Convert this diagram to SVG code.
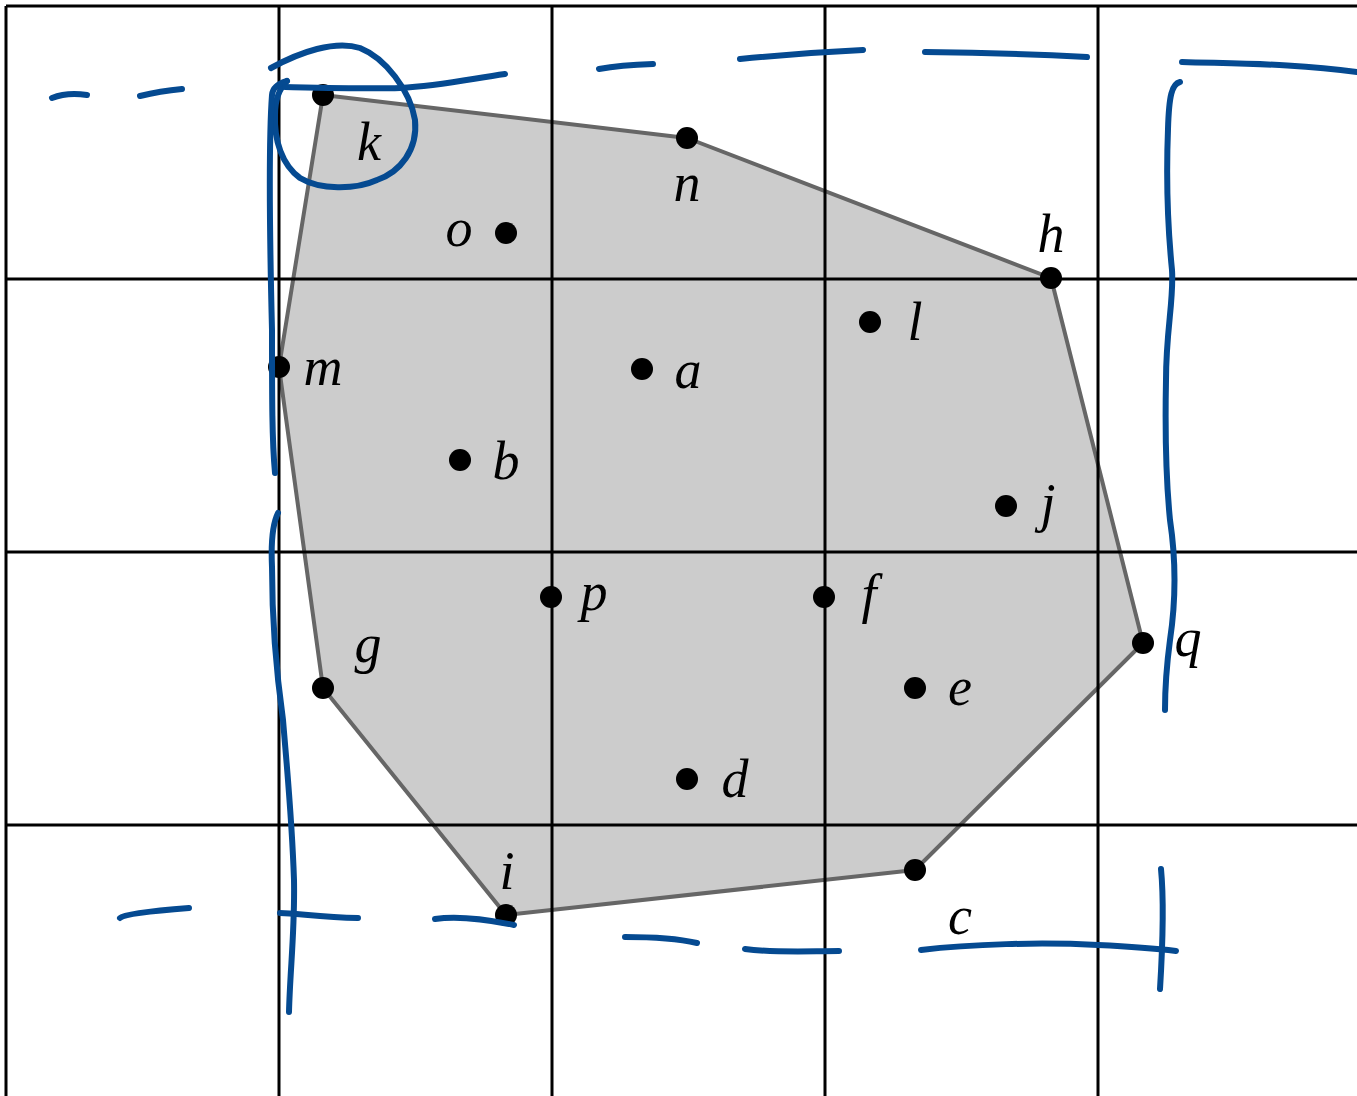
<svg xmlns="http://www.w3.org/2000/svg" width="1357" height="1096" viewBox="0 0 1357 1096">
<style>
.grid{stroke:#000;stroke-width:3;fill:none}
.hull{fill:#cccccc;stroke:#666;stroke-width:4;stroke-linejoin:round}
.pt{fill:#000}
.lbl{font-family:"Liberation Serif",serif;font-style:italic;font-size:54px;fill:#000;text-anchor:middle}
.ink{fill:none;stroke:#054a91;stroke-width:6;stroke-linecap:round;stroke-linejoin:round}
</style>
<rect width="1357" height="1096" fill="#fff"/>
<polygon class="hull" points="323,95 687,138 1051,278 1143,643 915,870 506,915 323,688 279,367"/>
<g id="grid">
<line class="grid" x1="6" y1="6" x2="1357" y2="6"/>
<line class="grid" x1="6" y1="279" x2="1357" y2="279"/>
<line class="grid" x1="6" y1="552" x2="1357" y2="552"/>
<line class="grid" x1="6" y1="825" x2="1357" y2="825"/>
<line class="grid" x1="6" y1="6" x2="6" y2="1096"/>
<line class="grid" x1="279" y1="6" x2="279" y2="1096"/>
<line class="grid" x1="552" y1="6" x2="552" y2="1096"/>
<line class="grid" x1="825" y1="6" x2="825" y2="1096"/>
<line class="grid" x1="1098" y1="6" x2="1098" y2="1096"/>
</g>
<g id="node-k"><circle class="pt" cx="323" cy="95" r="11"/><text class="lbl" x="369" y="160">k</text></g>
<g id="node-n"><circle class="pt" cx="687" cy="138" r="11"/><text class="lbl" x="687" y="201">n</text></g>
<g id="node-h"><circle class="pt" cx="1051" cy="278" r="11"/><text class="lbl" x="1051" y="252">h</text></g>
<g id="node-o"><circle class="pt" cx="506" cy="233" r="11"/><text class="lbl" x="459" y="246">o</text></g>
<g id="node-l"><circle class="pt" cx="870" cy="322" r="11"/><text class="lbl" x="915" y="340">l</text></g>
<g id="node-a"><circle class="pt" cx="642" cy="369" r="11"/><text class="lbl" x="688" y="388">a</text></g>
<g id="node-m"><circle class="pt" cx="279" cy="367" r="11"/><text class="lbl" x="323" y="385">m</text></g>
<g id="node-b"><circle class="pt" cx="460" cy="460" r="11"/><text class="lbl" x="506" y="479">b</text></g>
<g id="node-j"><circle class="pt" cx="1006" cy="506" r="11"/><text class="lbl" x="1048" y="521">j</text></g>
<g id="node-p"><circle class="pt" cx="551" cy="597" r="11"/><text class="lbl" x="594" y="610">p</text></g>
<g id="node-f"><circle class="pt" cx="824" cy="597" r="11"/><text class="lbl" x="869" y="612">f</text></g>
<g id="node-q"><circle class="pt" cx="1143" cy="643" r="11"/><text class="lbl" x="1188" y="656">q</text></g>
<g id="node-g"><circle class="pt" cx="323" cy="688" r="11"/><text class="lbl" x="368" y="662">g</text></g>
<g id="node-e"><circle class="pt" cx="915" cy="688" r="11"/><text class="lbl" x="960" y="705">e</text></g>
<g id="node-d"><circle class="pt" cx="687" cy="779" r="11"/><text class="lbl" x="735" y="797">d</text></g>
<g id="node-c"><circle class="pt" cx="915" cy="870" r="11"/><text class="lbl" x="960" y="934">c</text></g>
<g id="node-i"><circle class="pt" cx="506" cy="915" r="11"/><text class="lbl" x="507" y="889">i</text></g>
<g id="connectors">
<path class="ink" d="M52,98 Q67,92 87,95"/>
<path class="ink" d="M140,96 Q160,91 182,89"/>
<path class="ink" d="M271,68 C300,52 335,40 360,48 C385,58 410,90 415,120 C418,150 400,172 377,180 C355,190 320,190 300,178 C282,165 274,140 275,115 C275,100 280,88 287,81"/>
<path class="ink" d="M287,81 C280,83 273,86 272,95 C268,150 270,250 272,330 C272,400 272,440 275,473"/>
<path class="ink" d="M278,513 C272,525 271,545 272,567 C272,620 276,670 283,720 C288,780 292,820 294,880 C295,930 290,970 289,1012"/>
<path class="ink" d="M285,87 C330,88 370,89 400,88 C440,86 470,79 505,74"/>
<path class="ink" d="M599,69 Q620,65 653,64"/>
<path class="ink" d="M740,59 Q800,53 863,50"/>
<path class="ink" d="M925,52 Q1010,53 1087,57"/>
<path class="ink" d="M1182,62 C1250,64 1300,64 1357,72"/>
<path class="ink" d="M1180,82 C1172,84 1169,95 1168,129 C1166,180 1168,230 1172,270 C1174,300 1166,330 1166,380 C1165,430 1166,480 1170,520 C1176,560 1176,600 1170,640 C1166,670 1165,690 1165,710"/>
<path class="ink" d="M120,918 Q125,913 189,908"/>
<path class="ink" d="M280,913 C295,913 320,917 358,918"/>
<path class="ink" d="M435,919 C455,916 480,918 514,925"/>
<path class="ink" d="M625,937 C650,937 675,938 697,943"/>
<path class="ink" d="M745,949 C775,953 810,951 839,951"/>
<path class="ink" d="M921,950 C970,944 1040,942 1098,945 C1140,947 1160,949 1176,951"/>
<path class="ink" d="M1161,869 C1164,900 1163,940 1160,989"/>
</g>
</svg>
